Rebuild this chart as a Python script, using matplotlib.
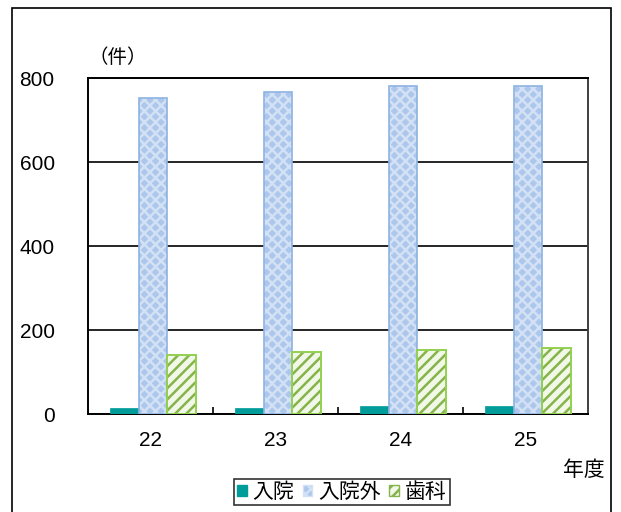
import numpy as np
import matplotlib
matplotlib.use("Agg")
import matplotlib.pyplot as plt
from matplotlib.patches import Rectangle, Patch

plt.rcParams['font.family'] = ['Liberation Sans', 'Noto Sans CJK JP', 'DejaVu Sans']
plt.rcParams['hatch.linewidth'] = 1.8

# data
years = ['22', '23', '24', '25']
inpatient = [14, 14, 19, 19]
outpatient = [752, 766, 780, 780]
dental = [141, 148, 153, 157]
series_names = ['入院', '入院外', '歯科']

fig = plt.figure(figsize=(6.21, 5.12), dpi=100)
ax = fig.add_axes([88/621, 1-414/512, 500/621, 336/512])

x = np.arange(len(years))
w = 0.23
off = 0.02

# 入院
ax.bar(x - w + off, inpatient, w, color='#009C9A', edgecolor='#009C9A', lw=0.5, zorder=3)
# 入院外 (cross hatch)
ax.bar(x + off, outpatient, w, color='#ADC7EC', edgecolor='#D3E1F5', hatch='xxx', lw=0, zorder=3)
ax.bar(x + off, outpatient, w, fill=False, edgecolor='#8DB3E2', lw=1.2, zorder=4)
# 歯科 (diagonal stripes)
ax.bar(x + w + off, dental, w, color='#F1F8E8', edgecolor='#86B34A', hatch='///', lw=0, zorder=3)
ax.bar(x + w + off, dental, w, fill=False, edgecolor='#92D050', lw=1.4, zorder=4)

ax.set_xlim(-0.5, 3.5)
ax.set_ylim(0, 800)
ax.set_yticks([0, 200, 400, 600, 800])
ax.tick_params(axis='y', length=0, labelsize=15, pad=24)
ax.set_xticks(x)
ax.set_xticklabels(years)
ax.tick_params(axis='x', which='major', length=0, labelsize=15, pad=12)
ax.set_xticks([0.5, 1.5, 2.5], minor=True)
ax.tick_params(axis='x', which='minor', direction='in', length=5, width=1.2, color='black')
ax.grid(axis='y', color='black', lw=1.2, zorder=1)
for s in ax.spines.values():
    s.set_color('black')
    s.set_linewidth(1.4)
ax.spines['right'].set_color('#404040')

fig.text(118/621, 1-58/512, '（件）', fontsize=14, ha='center', va='center')
fig.text(584/621, 1-470/512, '年度', fontsize=15, ha='center', va='center')

# legend
handles = [
    Patch(facecolor='#009C9A', edgecolor='#009C9A'),
    Patch(facecolor='#ADC7EC', edgecolor='#D3E1F5', hatch='xxx'),
    Patch(facecolor='#F1F8E8', edgecolor='#86B34A', hatch='///'),
]
leg = fig.legend(handles, series_names, loc='center', bbox_to_anchor=(342/621, 1-492/512),
                 ncol=3, fontsize=15, frameon=True, fancybox=False, edgecolor='black',
                 handlelength=0.45, handleheight=0.45, handletextpad=0.3, columnspacing=0.4,
                 borderpad=0.15, borderaxespad=0)
leg.get_frame().set_linewidth(1.2)

# outer frame
fig.patches.append(Rectangle((12/621, -0.1), 599/621, 1-8/512+0.1, transform=fig.transFigure,
                             fill=False, edgecolor='black', lw=1.2))

fig.savefig('out.png', dpi=100)
